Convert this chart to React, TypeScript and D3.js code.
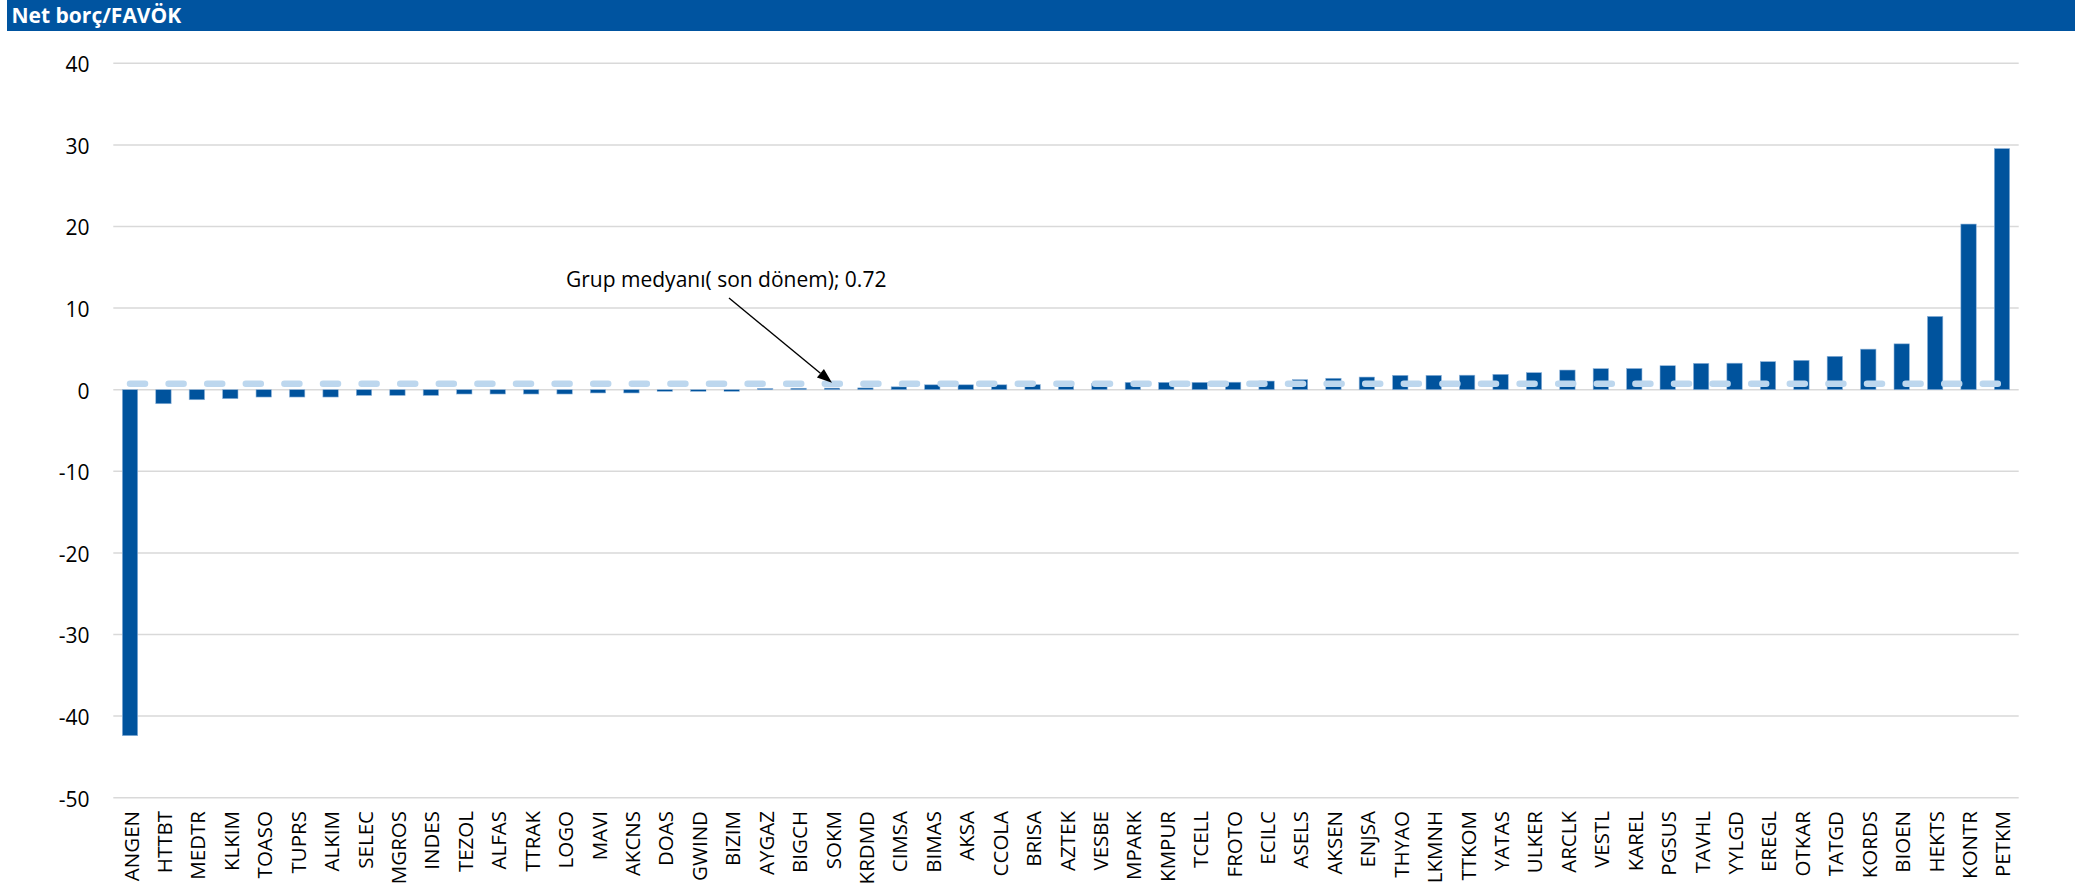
import React from "react";
import * as d3 from "d3";

const categories = [
  "ANGEN","HTTBT","MEDTR","KLKIM","TOASO","TUPRS","ALKIM","SELEC","MGROS","INDES",
  "TEZOL","ALFAS","TTRAK","LOGO","MAVI","AKCNS","DOAS","GWIND","BIZIM","AYGAZ",
  "BIGCH","SOKM","KRDMD","CIMSA","BIMAS","AKSA","CCOLA","BRISA","AZTEK","VESBE",
  "MPARK","KMPUR","TCELL","FROTO","ECILC","ASELS","AKSEN","ENJSA","THYAO","LKMNH",
  "TTKOM","YATAS","ULKER","ARCLK","VESTL","KAREL","PGSUS","TAVHL","YYLGD","EREGL",
  "OTKAR","TATGD","KORDS","BIOEN","HEKTS","KONTR","PETKM"
];

const netDebtEbitda = [
  -42.4, -1.72, -1.23, -1.1, -0.9, -0.9, -0.9, -0.7, -0.7, -0.7,
  -0.53, -0.53, -0.53, -0.53, -0.4, -0.4, -0.2, -0.2, -0.2, 0.15,
  0.18, 0.2, 0.22, 0.35, 0.6, 0.6, 0.6, 0.62, 0.72, 0.75,
  0.9, 0.9, 0.9, 0.92, 1.06, 1.23, 1.4, 1.55, 1.76, 1.76,
  1.78, 1.88, 2.09, 2.41, 2.58, 2.6, 2.94, 3.23, 3.25, 3.44,
  3.6, 4.09, 4.97, 5.62, 8.98, 20.3, 29.55
];

const groupMedian = 0.72;
const yTicks = [40, 30, 20, 10, 0, -10, -20, -30, -40, -50];
const title = "Net borç/FAVÖK";
const annotation = "Grup medyanı( son dönem); 0.72";

const W = 2075;
const H = 892;
const FONT = "'Open Sans', 'Noto Sans', sans-serif";

export default function App() {
  const x = d3
    .scaleBand<string>()
    .domain(categories)
    .range([113.3, 2018.7])
    .paddingInner(0.54)
    .paddingOuter(0.27);
  const y = d3.scaleLinear().domain([-50, 40]).range([797.7, 63.3]);

  const cx = (c: string) => (x(c) as number) + x.bandwidth() / 2;

  const medianLine = d3
    .line<string>()
    .x((c) => cx(c))
    .y(() => y(groupMedian));

  const arrowTip = { x: cx("SOKM"), y: y(groupMedian) - 1 };
  const arrowStart = { x: 729, y: 298 };
  const ang = Math.atan2(arrowTip.y - arrowStart.y, arrowTip.x - arrowStart.x);
  const headLen = 15;
  const headHalf = 5.5;
  const bx = arrowTip.x - headLen * Math.cos(ang);
  const by = arrowTip.y - headLen * Math.sin(ang);
  const px = -Math.sin(ang) * headHalf;
  const py = Math.cos(ang) * headHalf;

  return (
    <svg
      width={W}
      height={H}
      style={{ position: "absolute", left: 0, top: 0, background: "#fff" }}
    >
      <rect x={7} y={0} width={W - 7} height={31} fill="#0054A0" />
      <text
        x={11.5}
        y={22.5}
        fill="#fff"
        fontFamily={FONT}
        fontWeight={700}
        fontSize={21}
      >
        {title}
      </text>

      {yTicks.map((t) => (
        <g key={t}>
          <line
            x1={113.3}
            x2={2018.7}
            y1={y(t)}
            y2={y(t)}
            stroke="#D9D9D9"
            strokeWidth={1.5}
          />
          <text
            x={89.5}
            y={y(t) + 8.8}
            textAnchor="end"
            fontFamily={FONT}
            fontSize={21}
            fill="#000"
          >
            {t}
          </text>
        </g>
      ))}

      {categories.map((c, i) => {
        const v = netDebtEbitda[i];
        const y0 = y(0);
        const y1 = y(v);
        return (
          <rect
            key={c}
            x={x(c)}
            y={Math.min(y0, y1)}
            width={x.bandwidth()}
            height={Math.abs(y1 - y0)}
            fill="#00539D"
            stroke="#8FB4DA"
            strokeWidth={0.6}
          />
        );
      })}

      <path
        d={medianLine(categories) || ""}
        fill="none"
        stroke="#BDD7EE"
        strokeWidth={6.5}
        strokeLinecap="round"
        strokeDasharray="15 23.6"
      />

      {categories.map((c) => (
        <text
          key={c}
          transform={`translate(${cx(c) + 8.5},811) rotate(-90)`}
          textAnchor="end"
          fontFamily={FONT}
          fontSize={20.5}
          fill="#000"
        >
          {c}
        </text>
      ))}

      <line
        x1={arrowStart.x}
        y1={arrowStart.y}
        x2={bx}
        y2={by}
        stroke="#000"
        strokeWidth={1.4}
      />
      <polygon
        points={`${arrowTip.x},${arrowTip.y} ${bx + px},${by + py} ${bx - px},${by - py}`}
        fill="#000"
      />
      <text
        x={566}
        y={287}
        fontFamily={FONT}
        fontSize={21}
        fill="#000"
      >
        {annotation}
      </text>
    </svg>
  );
}
